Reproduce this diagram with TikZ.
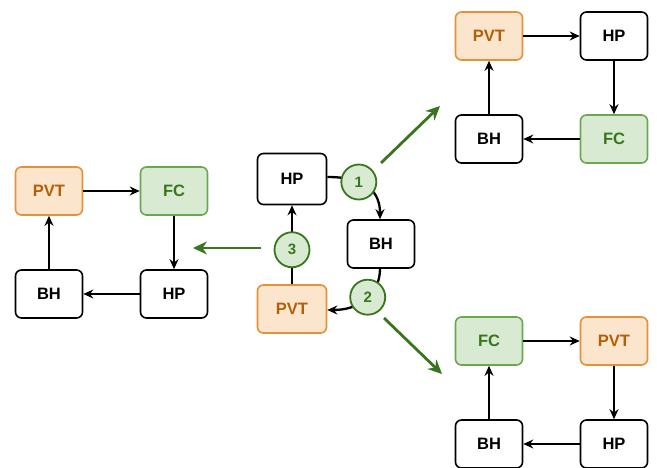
\documentclass[tikz,border=0pt]{standalone}
\usepackage{fontspec}
\setmainfont{Liberation Sans}
\usetikzlibrary{arrows.meta}
\definecolor{orfill}{HTML}{FCE5CD}
\definecolor{ordraw}{HTML}{E69138}
\definecolor{ortext}{HTML}{B45F06}
\definecolor{grfill}{HTML}{D9EAD3}
\definecolor{grdraw}{HTML}{6AA84F}
\definecolor{grtext}{HTML}{38761D}
\definecolor{grarrow}{HTML}{38761D}
\tikzset{
  box/.style={draw=black, line width=1.6pt, rounded corners=6pt, fill=white,
    minimum width=67pt, minimum height=48pt, inner sep=0pt,
    font=\fontsize{16.5}{18}\selectfont\bfseries},
  pvt/.style={box, draw=ordraw, fill=orfill, text=ortext},
  fc/.style={box, draw=grdraw, fill=grfill, text=grtext},
  flow/.style={line width=2.3pt, -{Stealth[length=10pt,width=9pt]}},
  bigarrow/.style={draw=grarrow, line width=2.8pt, -{Stealth[length=14pt,width=13pt]}},
  num/.style={circle, draw=grarrow, line width=1.8pt, fill=grfill, text=grtext,
    minimum size=35pt, inner sep=0pt, font=\fontsize{15}{17}\selectfont\bfseries}
}
\begin{document}
\begin{tikzpicture}[x=1pt,y=-1pt]
\useasboundingbox (0,0) rectangle (657,468);
% top-right cluster
\node[pvt] (tP) at (489,36) {PVT};
\node[box] (tH) at (614,36) {HP};
\node[box] (tB) at (489,139) {BH};
\node[fc]  (tF) at (614,139) {FC};
\draw[flow] (tP) -- (tH);
\draw[flow] (tH) -- (tF);
\draw[flow] (tF) -- (tB);
\draw[flow] (tB) -- (tP);
% left cluster
\node[pvt] (lP) at (49,191) {PVT};
\node[fc]  (lF) at (174,191) {FC};
\node[box] (lB) at (49,294) {BH};
\node[box] (lH) at (174,294) {HP};
\draw[flow] (lP) -- (lF);
\draw[flow] (lF) -- (lH);
\draw[flow] (lH) -- (lB);
\draw[flow] (lB) -- (lP);
% bottom-right cluster
\node[fc]  (bF) at (489,341) {FC};
\node[pvt] (bP) at (614,341) {PVT};
\node[box] (bB) at (489,444) {BH};
\node[box] (bH) at (614,444) {HP};
\draw[flow] (bF) -- (bP);
\draw[flow] (bP) -- (bH);
\draw[flow] (bH) -- (bB);
\draw[flow] (bB) -- (bF);
% center cycle
\node[box, minimum width=69pt, minimum height=51pt] (cH) at (292,179) {HP};
\node[box] (cB) at (381,244) {BH};
\node[pvt, minimum width=69pt] (cP) at (292,309) {PVT};
\coordinate (cHe) at (cH.east |- 0,177);
\coordinate (cBn) at (380,0 |- cB.north);
\coordinate (cBs) at (380,0 |- cB.south);
\coordinate (cPe) at (cP.east |- 0,310);
\draw[flow] (cHe) .. controls (368,177) and (380,193) .. (cBn)
  node[num, pos=0.33] (n1) {1};
\draw[flow] (cBs) .. controls (380,292) and (362,310) .. (cPe)
  node[num, pos=0.48] (n2) {2};
\draw[flow] (cP) -- (cH) node[num, midway, yshift=-5pt] (n3) {3};
% green arrows
\coordinate (a1s) at (381,163);
\coordinate (a1e) at (440,106);
\coordinate (a2s) at (384,318);
\coordinate (a2e) at (442,374);
\coordinate (a3s) at (261,248);
\coordinate (a3e) at (193,248);
\draw[bigarrow] (a1s) -- (a1e);
\draw[bigarrow] (a2s) -- (a2e);
\draw[bigarrow] (a3s) -- (a3e);
\end{tikzpicture}
\end{document}
